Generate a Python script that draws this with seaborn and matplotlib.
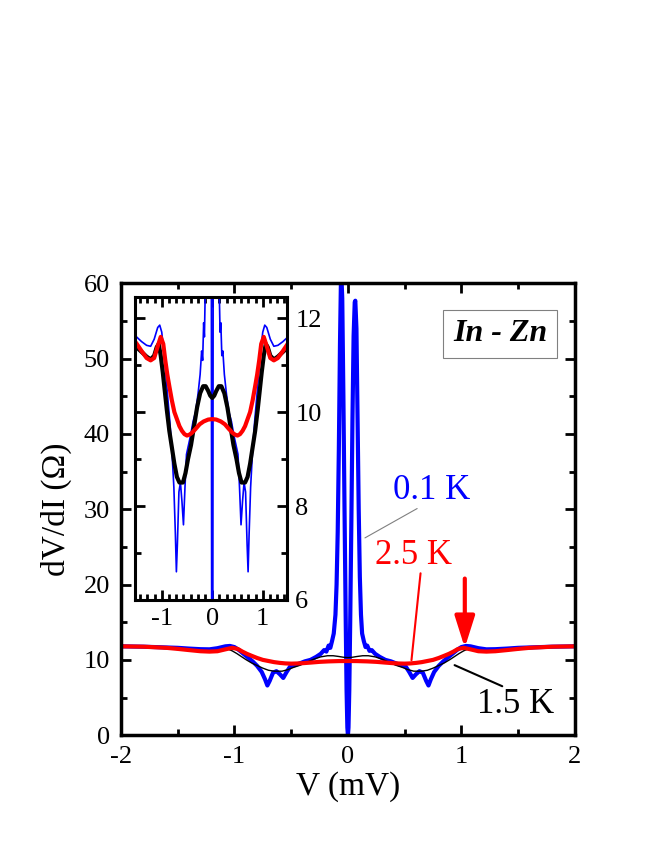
import numpy as np
import pandas as pd
import seaborn as sns
import matplotlib.pyplot as plt
from matplotlib.ticker import MultipleLocator

# 0.1 K curve (blue)
v_01 = [-2.0, -1.8, -1.6, -1.5, -1.4, -1.3, -1.22, -1.15, -1.08, -1.04, -1.0, -0.96,
        -0.92, -0.88, -0.84, -0.8, -0.76, -0.73, -0.71, -0.69, -0.66, -0.63, -0.6, -0.57,
        -0.54, -0.51, -0.47, -0.43, -0.38, -0.33, -0.28, -0.24, -0.21, -0.19, -0.17,
        -0.155, -0.14, -0.125, -0.11, -0.1, -0.09, -0.08, -0.07, -0.06, -0.05, -0.04,
        -0.03, -0.02, -0.012, -0.005, 0.0,
        0.005, 0.012, 0.02, 0.03, 0.04, 0.05, 0.06, 0.065, 0.075, 0.085, 0.095, 0.105,
        0.115, 0.125, 0.14, 0.155, 0.17, 0.19, 0.21, 0.24, 0.28, 0.33, 0.38, 0.43, 0.47,
        0.51, 0.54, 0.57, 0.6, 0.63, 0.66, 0.69, 0.71, 0.73, 0.76, 0.8, 0.84, 0.88, 0.92,
        0.96, 1.0, 1.04, 1.08, 1.15, 1.22, 1.3, 1.4, 1.5, 1.6, 1.8, 2.0]
r_01 = [11.8, 11.75, 11.65, 11.6, 11.5, 11.42, 11.4, 11.55, 11.8, 11.85, 11.7, 11.3,
        10.8, 10.3, 9.8, 9.2, 8.4, 7.4, 6.6, 7.2, 8.3, 8.5, 8.1, 7.6,
        8.4, 9.1, 9.3, 9.5, 9.8, 10.0, 10.4, 10.8, 11.3, 11.1, 11.9,
        11.6, 12.5, 13.5, 16.0, 20.0, 27.0, 38.0, 52.0, 62.0, 58.0, 45.0,
        30.0, 16.0, 6.0, 1.0, 0.0,
        1.0, 6.0, 15.0, 28.0, 42.0, 53.0, 57.5, 57.7, 54.0, 42.0, 30.0, 21.0,
        16.0, 13.5, 12.5, 11.7, 11.9, 11.2, 11.3, 10.8, 10.4, 10.0, 9.8, 9.5, 9.3,
        9.1, 8.4, 7.6, 8.1, 8.5, 8.3, 7.2, 6.6, 7.4, 8.4, 9.2, 9.8, 10.3, 10.8,
        11.3, 11.7, 11.85, 11.8, 11.55, 11.4, 11.42, 11.5, 11.6, 11.65, 11.75, 11.8]

# 1.5 K curve (black)
v_15 = [-2.0, -1.8, -1.6, -1.5, -1.4, -1.3, -1.22, -1.15, -1.1, -1.06, -1.02, -0.98,
        -0.94, -0.9, -0.85, -0.8, -0.75, -0.7, -0.65, -0.58, -0.53, -0.48, -0.42, -0.36,
        -0.3, -0.24, -0.18, -0.13, -0.08, -0.04, 0.0,
        0.04, 0.08, 0.13, 0.18, 0.24, 0.3, 0.36, 0.42, 0.48, 0.53, 0.58, 0.65, 0.7,
        0.75, 0.8, 0.85, 0.9, 0.94, 0.98, 1.02, 1.06, 1.1, 1.15, 1.22, 1.3, 1.4, 1.5,
        1.6, 1.8, 2.0]
r_15 = [11.8, 11.7, 11.5, 11.38, 11.28, 11.18, 11.12, 11.2, 11.38, 11.45, 11.2, 10.85,
        10.45, 10.05, 9.6, 9.25, 8.9, 8.62, 8.5, 8.5, 8.7, 9.0, 9.3, 9.7,
        10.1, 10.4, 10.55, 10.55, 10.45, 10.35, 10.3,
        10.35, 10.45, 10.55, 10.55, 10.4, 10.1, 9.7, 9.3, 9.0, 8.7, 8.5, 8.5, 8.62,
        8.9, 9.25, 9.6, 10.05, 10.45, 10.85, 11.2, 11.45, 11.38, 11.2, 11.12, 11.18,
        11.28, 11.38, 11.5, 11.7, 11.8]

# 2.5 K curve (red)
v_25 = [-2.0, -1.8, -1.6, -1.5, -1.4, -1.3, -1.22, -1.15, -1.08, -1.02, -0.97, -0.93,
        -0.89, -0.85, -0.8, -0.75, -0.7, -0.65, -0.6, -0.55, -0.5, -0.45, -0.4, -0.33,
        -0.25, -0.17, -0.08, 0.0,
        0.08, 0.17, 0.25, 0.33, 0.4, 0.45, 0.5, 0.55, 0.6, 0.65, 0.7, 0.75, 0.8, 0.85,
        0.89, 0.93, 0.97, 1.02, 1.08, 1.15, 1.22, 1.3, 1.4, 1.5, 1.6, 1.8, 2.0]
r_25 = [11.8, 11.75, 11.6, 11.46, 11.3, 11.15, 11.1, 11.15, 11.4, 11.6, 11.45, 11.1,
        10.8, 10.55, 10.25, 10.0, 9.85, 9.7, 9.6, 9.53, 9.5, 9.52, 9.56, 9.64,
        9.74, 9.8, 9.84, 9.85,
        9.84, 9.8, 9.74, 9.64, 9.56, 9.52, 9.5, 9.53, 9.6, 9.7, 9.85, 10.0, 10.25, 10.55,
        10.8, 11.1, 11.45, 11.6, 11.4, 11.15, 11.1, 11.15, 11.3, 11.46, 11.6, 11.75, 11.8]

x_ticks = [-2, -1, 0, 1, 2]
y_ticks = [0, 10, 20, 30, 40, 50, 60]
inset_x_ticks = [-1, 0, 1]
inset_y_ticks = [6, 8, 10, 12]

BLUE, RED, BLACK = '#0000ff', '#ff0000', '#000000'

sns.set_style("ticks")
plt.rcParams['font.family'] = ['Liberation Serif', 'DejaVu Serif']
plt.rcParams['axes.unicode_minus'] = False
for key in ['axes.edgecolor', 'axes.labelcolor', 'xtick.color', 'ytick.color',
            'text.color']:
    plt.rcParams[key] = 'black'

curves = [
    (pd.DataFrame({'V': v_01, 'R': r_01}), BLUE),
    (pd.DataFrame({'V': v_15, 'R': r_15}), BLACK),
    (pd.DataFrame({'V': v_25, 'R': r_25}), RED),
]

fig = plt.figure(figsize=(6.54, 8.46), dpi=100)
ax = fig.add_axes([0.185, 0.131, 0.694, 0.534])

main_lw = [3.0, 1.0, 3.0]
for (df, col), lw in zip(curves, main_lw):
    sns.lineplot(data=df, x='V', y='R', ax=ax, color=col, lw=lw,
                 sort=False, estimator=None)

ax.set_xlim(-2, 2)
ax.set_ylim(0, 60)
ax.set_xticks(x_ticks)
ax.set_xticklabels([str(t) for t in x_ticks])
ax.set_yticks(y_ticks)
ax.xaxis.set_minor_locator(MultipleLocator(0.5))
ax.yaxis.set_minor_locator(MultipleLocator(5))
ax.tick_params(which='both', direction='in', top=True, right=True, width=2,
               labelsize=19, pad=8)
ax.tick_params(which='major', length=7)
ax.tick_params(which='minor', length=4)
for s in ax.spines.values():
    s.set_linewidth(2.5)
ax.set_xlabel('V (mV)', fontsize=24, labelpad=2)
ax.set_ylabel('dV/dI (Ω)', fontsize=24, labelpad=8)

# labels and pointers
ax.text(0.74, 32.5, '0.1 K', color=BLUE, fontsize=25, ha='center', va='center')
ax.annotate('', xy=(0.15, 26.2), xytext=(0.61, 30.1),
            arrowprops=dict(arrowstyle='-', color='gray', lw=0.8,
                            shrinkA=0, shrinkB=0))
ax.text(0.58, 23.8, '2.5 K', color=RED, fontsize=25, ha='center', va='center')
ax.annotate('', xy=(0.56, 9.95), xytext=(0.64, 21.5),
            arrowprops=dict(arrowstyle='-', color=RED, lw=1.5,
                            shrinkA=0, shrinkB=0))
ax.annotate('', xy=(1.03, 11.6), xytext=(1.03, 20.8),
            arrowprops=dict(arrowstyle='-|>,head_length=0.95,head_width=0.3',
                            color=RED, lw=3, mutation_scale=20,
                            shrinkA=0, shrinkB=0))
ax.text(1.48, 4.1, '1.5 K', color=BLACK, fontsize=25, ha='center', va='center')
ax.annotate('', xy=(0.94, 9.3), xytext=(1.36, 6.5),
            arrowprops=dict(arrowstyle='-', color=BLACK, lw=1.5,
                            shrinkA=0, shrinkB=0))
ax.text(1.34, 53.3, 'In - Zn', fontsize=23, fontweight='bold', style='italic',
        ha='center', va='center',
        bbox=dict(boxstyle='square,pad=0.3', fc='white', ec='gray', lw=0.8))

# inset
axi = fig.add_axes([0.2064, 0.2908, 0.2324, 0.3582])
inset_lw = [1.2, 3.0, 3.0]
for (df, col), lw in zip(curves, inset_lw):
    sns.lineplot(data=df, x='V', y='R', ax=axi, color=col, lw=lw,
                 sort=False, estimator=None)
axi.set_xlim(-1.53, 1.48)
axi.set_ylim(6, 12.45)
axi.set_xticks(inset_x_ticks)
axi.set_xticklabels([str(t) for t in inset_x_ticks])
axi.set_yticks(inset_y_ticks)
axi.xaxis.set_minor_locator(MultipleLocator(1 / 7))
axi.yaxis.set_minor_locator(MultipleLocator(1))
axi.tick_params(which='both', direction='in', top=True, bottom=True, left=True,
                right=True, labelleft=False, labelright=True, width=2,
                labelsize=19, pad=6)
axi.tick_params(which='major', length=7)
axi.tick_params(which='minor', length=4)
for s in axi.spines.values():
    s.set_linewidth(2.2)
axi.set_xlabel('')
axi.set_ylabel('')

fig.savefig('out.png', dpi=100)
